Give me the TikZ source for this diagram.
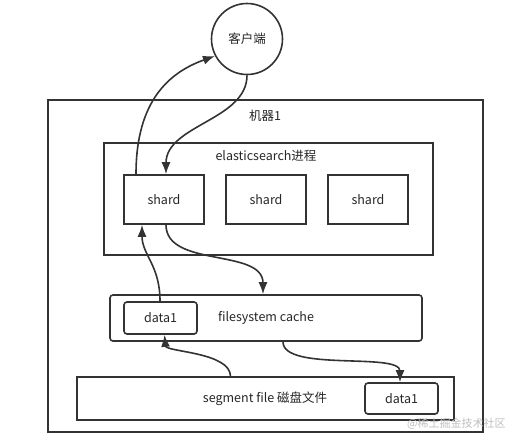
\documentclass[tikz,border=0pt]{standalone}
\usepackage{fontspec}
\setmainfont{Noto Sans CJK SC}
\usetikzlibrary{arrows.meta}
\begin{document}
\begin{tikzpicture}[x=1pt,y=-1pt]
\tikzstyle{every node}+=[inner sep=0pt, text=black!85, font=\fontsize{12.5}{14}\selectfont]
\tikzstyle{box}=[draw=black!80, line width=1.6pt]
\tikzstyle{flow}=[draw=black!80, line width=1.6pt, -{Latex[length=12pt,width=9pt]}]
\useasboundingbox (0,0) rectangle (516,440);
\node [box, circle, minimum size=71pt] (client) at (247,39) {客户端};
\node [box, minimum width=435pt, minimum height=332pt] (machine) at (265.5,266) {};
\node (machinelabel) at (265,116) {机器1};
\node [box, minimum width=329pt, minimum height=112pt] (es) at (268.5,199) {};
\node (eslabel) at (266,156) {elasticsearch进程};
\node [box, minimum width=80pt, minimum height=49pt] (shardA) at (164,199.5) {shard};
\node [box, minimum width=80pt, minimum height=49pt] (shardB) at (266,199.5) {shard};
\node [box, minimum width=80pt, minimum height=49pt] (shardC) at (368,199.5) {shard};
\node [box, rounded corners=3pt, minimum width=312pt, minimum height=46pt] (cache) at (266,318) {};
\node (cachelabel) at (266,318) {filesystem cache};
\node [box, rounded corners=3pt, minimum width=73pt, minimum height=32pt] (cachedata) at (160.5,318) {data1};
\node [box, minimum width=377pt, minimum height=43pt] (segment) at (265.5,398.5) {};
\node (segmentlabel) at (265,398.5) {segment file 磁盘文件};
\node [box, rounded corners=3pt, minimum width=73pt, minimum height=31pt] (diskdata) at (401.5,398.5) {data1};
\node [anchor=west, text=black!25, font=\fontsize{11}{13}\selectfont] (mark) at (407,424) {@稀土掘金技术社区};
\draw [flow] ([xshift=-28pt]shardA.north) .. controls (136,100) and (170,72) .. (client.208);
\draw [flow] (client.south) .. controls (247,120) and (166,125) .. ([xshift=2pt]shardA.north);
\draw [flow] ([xshift=-0.5pt]cachedata.north) .. controls (160,265) and (142,255) .. ([xshift=-22pt]shardA.south);
\draw [flow] ([xshift=2pt]shardA.south) .. controls (166,268) and (263,248) .. ([xshift=-3pt]cache.north);
\draw [flow] ([xshift=-35pt]segment.north) .. controls (230,352) and (166,352) .. ([xshift=4pt]cachedata.south);
\draw [flow] ([xshift=17pt]cache.south) .. controls (283,372) and (400,352) .. ([xshift=-1.5pt]diskdata.north);
\end{tikzpicture}
\end{document}
